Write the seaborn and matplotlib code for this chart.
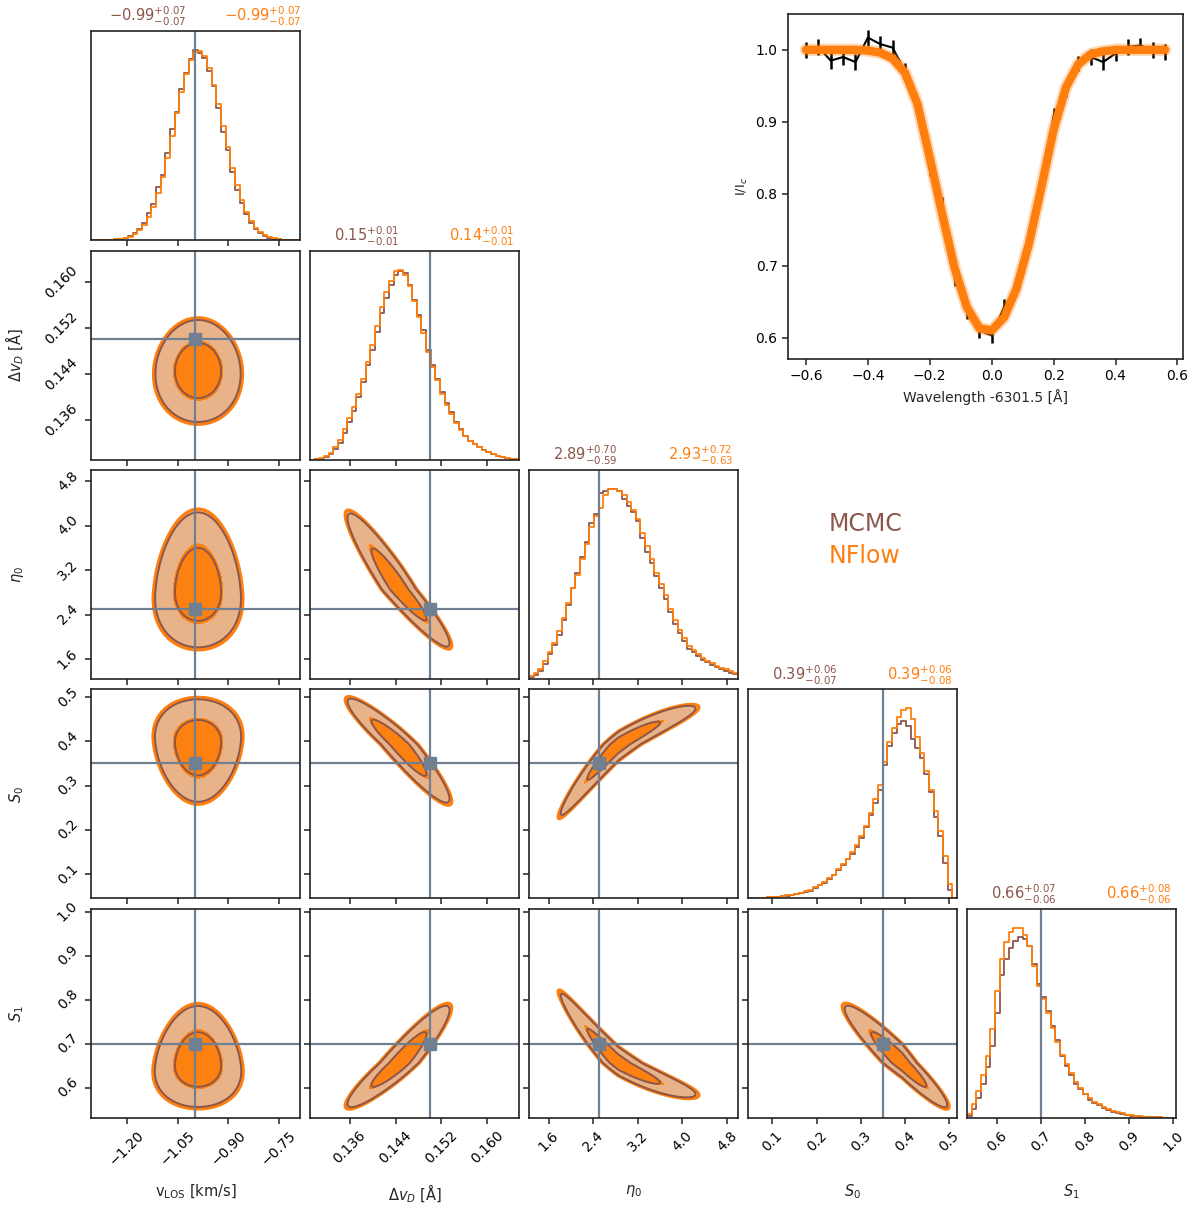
import numpy as np
import pandas as pd
import matplotlib
matplotlib.use("Agg")
import matplotlib.pyplot as plt
import seaborn as sns

# ---------------- data ----------------
param_labels = [r"v$_{\rm LOS}$ [km/s]", r"$\Delta v_D$ [Å]", r"$\eta_0$", r"$S_0$", r"$S_1$"]
truths = [-1.0, 0.15, 2.5, 0.35, 0.7]
axis_lo = [-1.307, 0.1291, 1.245, 0.045, 0.531]
axis_hi = [-0.688, 0.1655, 5.0, 0.517, 1.006]
tick_vals = [[-1.20, -1.05, -0.90, -0.75],
             [0.136, 0.144, 0.152, 0.160],
             [1.6, 2.4, 3.2, 4.0, 4.8],
             [0.1, 0.2, 0.3, 0.4, 0.5],
             [0.6, 0.7, 0.8, 0.9, 1.0]]

mcmc_med = [-0.99, 0.15, 2.89, 0.39, 0.66]
mcmc_plus = [0.07, 0.01, 0.70, 0.06, 0.07]
mcmc_minus = [0.07, 0.01, 0.59, 0.07, 0.06]
nflow_med = [-0.99, 0.14, 2.93, 0.39, 0.66]
nflow_plus = [0.07, 0.01, 0.72, 0.06, 0.08]
nflow_minus = [0.07, 0.01, 0.63, 0.08, 0.06]

# 1D marginal histograms (45 bins across each axis range), relative heights
hist_vlos_mcmc = [0, 0, 0.05, 0.1, 0.2, 0.4, 0.7, 1.2, 2.1, 3.6, 5.8, 8.9, 14.1, 19.1, 27.8, 34.6, 45.8,
                  58.5, 67.9, 79.9, 88.0, 95.9, 100.4, 98.7, 96.2, 89.5, 81.2, 69.6, 57.1, 47.3, 36.0, 26.4,
                  19.5, 13.5, 9.1, 5.9, 3.7, 2.2, 1.25, 0.7, 0.4, 0.2, 0.1, 0.05, 0]
hist_vlos_nflow = [0, 0, 0.04, 0.08, 0.17, 0.33, 0.6, 1.0, 1.8, 3.1, 5.1, 7.9, 12.0, 17.6, 24.6, 33.3, 43.5,
                   55.0, 67.0, 78.2, 87.8, 95.2, 99.3, 100.0, 97.1, 91.0, 82.0, 71.8, 60.5, 48.9, 38.2, 29.1,
                   21.1, 14.7, 10.0, 6.5, 4.1, 2.5, 1.4, 0.8, 0.45, 0.22, 0.11, 0.05, 0]
hist_dvd_mcmc = [0, 0.2, 0.5, 1.2, 3, 5.5, 9, 14, 20, 26, 33, 41, 50, 58, 68, 78, 86, 93, 98, 100,
                 99, 93, 85, 77, 69, 58, 50, 43, 36, 30, 25, 20, 16, 12.5, 10, 8, 6.5, 5, 3.8, 2.8,
                 2, 1.3, 0.8, 0.4, 0.2]
hist_dvd_nflow = [0, 0.3, 0.7, 1.6, 3.6, 6.5, 10.5, 16, 22, 28, 35, 43, 52, 61, 71, 81, 89, 95, 100, 101,
                  98, 92, 84, 76, 67, 57, 49, 42, 35, 29, 24, 19.5, 15.5, 12.5, 10, 8, 6.5, 5, 3.8, 2.8,
                  2, 1.4, 0.9, 0.5, 0.3]
hist_eta_mcmc = [1, 2, 4, 8, 13, 18, 23, 31, 39, 48, 56, 64, 72, 82, 87, 98, 99, 100, 100, 99, 95, 91, 88,
                 83, 74, 67, 61, 54, 48, 42, 35, 29, 24, 20, 16, 14, 12, 10, 9, 7.5, 6.5, 5, 4, 3, 2.5]
hist_eta_nflow = [1.5, 3, 5.5, 9.5, 14, 19, 25, 32, 40, 48, 55, 63, 71, 80, 86, 90, 97, 100, 100, 99, 97,
                  93, 89, 84, 77, 70, 63, 56, 50, 44, 37, 31, 26, 21.5, 17.5, 15, 13, 11, 9.5, 8.5, 7, 6,
                  5, 4, 3]
hist_s0_mcmc = [0.2, 0.3, 0.4, 0.5, 0.6, 0.8, 1.0, 1.3, 1.6, 2, 2.4, 3, 3.6, 4.5, 6, 7.5, 9, 11, 13, 16,
                19, 22, 25, 29, 34, 40, 47, 54, 61, 75, 86, 93, 98, 100, 97, 90, 85, 79, 70, 60, 46, 35,
                20, 5, 0]
hist_s0_nflow = [0.2, 0.3, 0.4, 0.5, 0.7, 0.9, 1.1, 1.4, 1.8, 2.2, 2.7, 3.3, 4, 5, 6.3, 7.8, 9.5, 11.5,
                 13.5, 16.5, 19.5, 22.5, 26, 30, 35, 41, 48, 56, 64, 77, 88, 96, 102, 106, 107, 101, 91,
                 82, 72, 61, 49, 38, 24, 8, 0]
hist_s1_mcmc = [1, 5, 11, 19, 28, 40, 58, 79, 88, 94, 98, 100, 99, 95, 85, 74, 67, 59, 51, 43, 34, 29, 24,
                19, 16, 13, 10, 8.5, 7, 5.5, 4.5, 3.5, 2.8, 2.2, 1.7, 1.3, 1.0, 0.8, 0.6, 0.5, 0.4, 0.3,
                0.2, 0.15, 0.1]
hist_s1_nflow = [2, 8, 15, 24, 34, 49, 70, 88, 97, 103, 105, 105, 101, 95, 84, 73, 66, 58, 50, 42, 35, 30,
                 25, 20, 16.5, 13.5, 11, 9, 7.5, 6, 5, 4, 3.2, 2.5, 1.9, 1.5, 1.2, 0.9, 0.7, 0.55, 0.45,
                 0.35, 0.25, 0.15, 0.1]
hists_mcmc = [hist_vlos_mcmc, hist_dvd_mcmc, hist_eta_mcmc, hist_s0_mcmc, hist_s1_mcmc]
hists_nflow = [hist_vlos_nflow, hist_dvd_nflow, hist_eta_nflow, hist_s0_nflow, hist_s1_nflow]

# 2D posterior shape summaries
post_center = [-0.99, 0.1447, 2.85, 0.393, 0.656]
post_scale_lo = [0.068, 0.0049, 0.56, 0.070, 0.054]
post_scale_hi = [0.068, 0.0047, 0.75, 0.055, 0.070]
pair_row = [1, 2, 3, 4, 2, 3, 4, 3, 4, 4]
pair_col = [0, 0, 0, 0, 1, 1, 1, 2, 2, 3]
pair_slope = [0, 0, 0, 0, -0.93, -0.95, 0.93, 1.0, -0.95, -0.95]
pair_curv = [0, 0, 0, 0, 0, 0, 0, -0.11, 0.13, 0]
pair_width = [1, 1, 1, 1, 0.33, 0.36, 0.38, 0.28, 0.28, 0.33]
pair_taper = [-0.04, -0.08, 0.09, -0.1, 0, 0, 0, 0, 0, 0]
mcmc_levels = [1.0, 1.85]
nflow_levels = [1.12, 1.93]

# Line profile
wavelength = [-0.60, -0.56, -0.52, -0.48, -0.44, -0.40, -0.36, -0.32, -0.28, -0.24, -0.20, -0.16, -0.12,
              -0.08, -0.04, 0.00, 0.04, 0.08, 0.12, 0.16, 0.20, 0.24, 0.28, 0.32, 0.36, 0.40, 0.44, 0.48,
              0.52, 0.56]
intensity_obs = [1.000, 1.004, 0.985, 0.990, 0.983, 1.017, 1.008, 1.003, 0.970, 0.925, 0.835, 0.784,
                 0.683, 0.637, 0.610, 0.603, 0.642, 0.669, 0.733, 0.811, 0.908, 0.945, 0.981, 0.990,
                 0.983, 0.995, 1.004, 1.006, 1.000, 0.997]
intensity_model = [1.0, 1.0, 1.0, 1.0, 1.0, 0.999, 0.996, 0.988, 0.968, 0.925, 0.850, 0.772, 0.697,
                   0.642, 0.613, 0.610, 0.628, 0.668, 0.730, 0.808, 0.889, 0.948, 0.980, 0.994, 0.998,
                   1.0, 1.0, 1.0, 1.0, 1.0]
obs_err = 0.011

# ---------------- style ----------------
sns.set_style("ticks")
plt.rcParams['font.family'] = ['DejaVu Sans']
plt.rcParams['mathtext.fontset'] = 'dejavusans'
plt.rcParams['axes.edgecolor'] = '#222222'
plt.rcParams['axes.linewidth'] = 1.2
plt.rcParams['xtick.color'] = '#222222'
plt.rcParams['ytick.color'] = '#222222'
plt.rcParams['xtick.labelcolor'] = 'black'
plt.rcParams['ytick.labelcolor'] = 'black'
plt.rcParams['xtick.major.size'] = 4
plt.rcParams['ytick.major.size'] = 4
plt.rcParams['xtick.major.width'] = 1.1
plt.rcParams['ytick.major.width'] = 1.1

BROWN = '#8c564b'
ORANGE = '#ff7f0e'
TAN = '#e9b38a'
INNER = '#fd8110'
TRUTH = '#708090'

fig, axes = plt.subplots(5, 5, figsize=(12, 12.1), dpi=100)
fig.subplots_adjust(left=91/1200, right=1176/1200, top=1-31/1210, bottom=1-1118/1210,
                    wspace=10/209, hspace=10.5/209)


def standardize(x, c, lo, hi):
    return np.where(x < c, (x - c) / lo, (x - c) / hi)


def pair_index(i, j):
    for k in range(len(pair_row)):
        if pair_row[k] == i and pair_col[k] == j:
            return k
    return None


nb = 45
for i in range(5):
    for j in range(5):
        ax = axes[i, j]
        if j > i:
            ax.set_visible(False)
            continue
        ax.set_xlim(axis_lo[j], axis_hi[j])
        if i == j:
            edges = np.linspace(axis_lo[j], axis_hi[j], nb + 1)
            centers = 0.5 * (edges[:-1] + edges[1:])
            df = pd.DataFrame({'x': centers, 'm': hists_mcmc[j], 'n': hists_nflow[j]})
            sns.histplot(data=df, x='x', weights='m', bins=nb, binrange=(axis_lo[j], axis_hi[j]),
                         element='step', fill=False, color=BROWN, linewidth=1.3, ax=ax)
            sns.histplot(data=df, x='x', weights='n', bins=nb, binrange=(axis_lo[j], axis_hi[j]),
                         element='step', fill=False, color=ORANGE, linewidth=1.3, ax=ax)
            ax.set_ylim(0, 1.1 * max(max(hists_mcmc[j]), max(hists_nflow[j])))
            ax.set_yticks([])
            ax.set_ylabel('')
            ax.axvline(truths[j], color=TRUTH, lw=1.6)
            t1 = rf"${mcmc_med[j]:.2f}^{{+{mcmc_plus[j]:.2f}}}_{{-{mcmc_minus[j]:.2f}}}$"
            t2 = rf"${nflow_med[j]:.2f}^{{+{nflow_plus[j]:.2f}}}_{{-{nflow_minus[j]:.2f}}}$"
            ax.text(0.27, 1.012, t1, transform=ax.transAxes, ha='center', va='bottom',
                    color=BROWN, fontsize=10.5)
            ax.text(0.82, 1.012, t2, transform=ax.transAxes, ha='center', va='bottom',
                    color=ORANGE, fontsize=10.5)
        else:
            k = pair_index(i, j)
            gx = np.linspace(axis_lo[j], axis_hi[j], 400)
            gy = np.linspace(axis_lo[i], axis_hi[i], 400)
            X, Y = np.meshgrid(gx, gy)
            u = standardize(X, post_center[j], post_scale_lo[j], post_scale_hi[j])
            v = standardize(Y, post_center[i], post_scale_lo[i], post_scale_hi[i])
            ut = u * np.exp(-pair_taper[k] * v)
            w = v - (pair_slope[k] * ut + pair_curv[k] * ut ** 2)
            R = np.sqrt(ut ** 2 + (w / pair_width[k]) ** 2)
            ax.contourf(X, Y, R, levels=[0, nflow_levels[0], nflow_levels[1]], colors=[INNER, TAN])
            ax.contour(X, Y, R, levels=[nflow_levels[1]], colors=[ORANGE], linewidths=2.4)
            ax.contour(X, Y, R, levels=mcmc_levels, colors=[BROWN], linewidths=1.4)
            ax.set_ylim(axis_lo[i], axis_hi[i])
            ax.set_yticks(tick_vals[i])
            ax.axvline(truths[j], color=TRUTH, lw=1.6)
            ax.axhline(truths[i], color=TRUTH, lw=1.6)
            ax.plot(truths[j], truths[i], 's', color=TRUTH, ms=8)
        ax.set_xticks(tick_vals[j])
        if i == 4:
            for lab in ax.get_xticklabels():
                lab.set_rotation(45)
                lab.set_fontsize(10)
            ax.set_xlabel(param_labels[j], fontsize=10.5)
            ax.xaxis.set_label_coords(0.5, -0.31)
        else:
            ax.set_xticklabels([])
            ax.set_xlabel('')
        if i != j:
            if j == 0:
                for lab in ax.get_yticklabels():
                    lab.set_rotation(45)
                    lab.set_fontsize(10)
                    lab.set_va('center')
                ax.set_ylabel(param_labels[i], fontsize=10.5)
                ax.yaxis.set_label_coords(-0.31, 0.5)
            else:
                ax.set_yticklabels([])
                ax.set_ylabel('')

# spectrum panel
axs = fig.add_axes([788/1200, 1 - 359/1210, 395/1200, 345/1210])
axs.errorbar(wavelength, intensity_obs, yerr=obs_err, color='black', lw=1.5, elinewidth=1.8,
             capsize=0, zorder=2)
sns.lineplot(x=wavelength, y=intensity_model, color=ORANGE, lw=9, alpha=0.3, ax=axs, zorder=3)
sns.lineplot(x=wavelength, y=intensity_model, color=ORANGE, lw=6, alpha=1.0, ax=axs, zorder=4)
axs.set_xticks([-0.6, -0.4, -0.2, 0.0, 0.2, 0.4, 0.6])
axs.set_yticks([0.6, 0.7, 0.8, 0.9, 1.0])
axs.tick_params(labelsize=10)
axs.set_xlabel("Wavelength -6301.5 [Å]", fontsize=10)
axs.set_ylabel(r"I/I$_c$", fontsize=9.5)

fig.text(829/1200, 1 - 524/1210, "MCMC", color=BROWN, fontsize=17, ha='left', va='center')
fig.text(829/1200, 1 - 556/1210, "NFlow", color=ORANGE, fontsize=17, ha='left', va='center')

fig.savefig("out.png", dpi=100)
